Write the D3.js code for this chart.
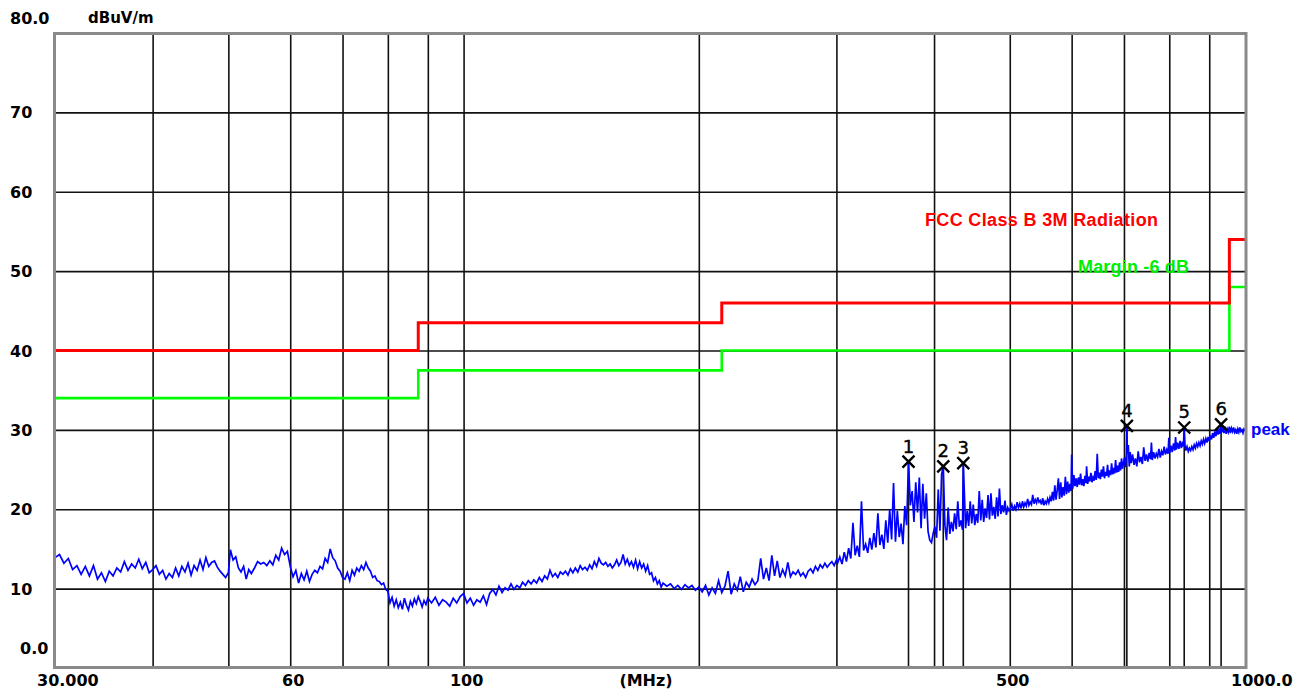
<!DOCTYPE html>
<html>
<head>
<meta charset="utf-8">
<script src="https://cdn.jsdelivr.net/npm/d3@7"></script>
<style>
  body { margin: 0; background: #fff; }
  svg { display: block; }
  text { font-family: "DejaVu Sans", sans-serif; font-weight: bold; }
</style>
</head>
<body>
<svg id="chart" width="1308" height="692"></svg>
<script>
// axis values
var yTicks = [0, 10, 20, 30, 40, 50, 60, 70, 80];
var yLabels = ["0.0", "10", "20", "30", "40", "50", "60", "70", "80.0"];
var gridFreqs = [40, 50, 60, 70, 80, 90, 100, 200, 300, 400, 500, 600, 700, 800, 900];
var xLabelFreqs = [30, 60, 100, 500, 1000];
var xLabels = ["30.000", "60", "100", "500", "1000.0"];

// FCC class B 3 m limit and the -6 dB margin line (steps)
var limitFreq = [30, 87.5, 87.5, 214, 214, 955, 955, 1000];
var limitLevel = [40, 40, 43.5, 43.5, 46, 46, 54, 54];
var marginLevel = [34, 34, 37.5, 37.5, 40, 40, 48, 48];

// markers: freq (MHz), level (dBuV/m)
var markerFreq = [371, 411, 436, 706, 836, 932];
var markerLevel = [26.0, 25.4, 25.8, 30.5, 30.3, 30.7];

// peak trace [MHz, dBuV/m]
var trace = [
  [30.0,13.9],[30.4,14.3],[30.8,13.2],[31.2,13.8],[31.6,12.4],[32.0,12.9],[32.4,11.8],[32.8,12.8],[33.2,11.6],[33.6,12.9],
  [34.0,11.2],[34.4,12.0],[34.8,10.9],[35.2,12.2],[35.6,11.6],[36.0,12.6],[36.4,12.1],[36.8,13.4],[37.2,12.3],[37.6,13.1],
  [38.0,12.6],[38.4,13.7],[38.8,12.5],[39.2,13.3],[39.6,12.0],[40.0,12.4],
  [40.4,12.9],[40.8,11.8],[41.2,12.3],[41.6,11.2],[42.0,11.9],[42.4,11.4],[42.8,12.6],[43.2,11.6],[43.6,12.8],[44.0,12.1],
  [44.4,13.2],[44.8,11.7],[45.2,12.9],[45.6,12.3],[46.0,13.6],[46.4,12.4],[46.8,13.9],[47.2,12.8],[47.6,13.3],[48.0,13.5],
  [48.4,12.7],[48.8,12.2],[49.2,11.8],[49.6,11.4],[50.0,12.0],
  [50.3,14.9],[50.7,13.6],[51.1,14.0],[51.5,12.6],[51.9,12.1],[52.3,12.8],[52.7,11.2],[53.1,12.4],[53.5,11.9],[54.0,12.6],
  [54.5,13.4],[55.0,13.1],[55.5,13.3],[56.0,12.9],[56.5,13.5],[57.0,13.0],[57.5,14.2],[58.0,13.6],[58.5,15.1],[59.0,14.3],
  [59.5,14.7],[60.0,12.8],
  [60.5,11.5],[61.0,12.3],[61.5,10.7],[62.0,11.9],[62.5,11.1],[63.0,12.2],[63.5,10.9],[64.0,11.8],[64.5,12.3],[65.0,12.0],
  [65.5,12.8],[66.0,12.5],[66.5,13.8],[67.0,13.3],[67.5,15.0],[68.0,13.9],[68.5,13.5],[69.0,12.6],[69.5,12.2],[70.0,11.4],
  [70.5,11.2],[71.0,12.0],[71.5,11.0],[72.0,12.3],[72.5,11.7],[73.0,12.6],[73.5,12.2],[74.0,12.9],[74.5,12.4],[75.0,13.3],
  [75.5,12.6],[76.0,12.2],[76.5,11.4],[77.0,11.6],[77.5,11.0],[78.0,10.9],[78.5,10.5],[79.0,10.7],[79.5,9.9],[80.0,9.7],
  [80.5,8.2],[81.0,8.9],[81.5,7.8],[82.0,8.6],[82.5,7.6],[83.0,8.3],[83.5,7.4],[84.0,8.8],[84.5,7.9],[85.0,7.3],
  [85.5,8.4],[86.0,7.8],[86.5,8.7],[87.0,8.1],[87.5,9.0],[88.0,8.4],[88.5,7.7],[89.0,8.5],[89.5,8.0],[90.0,8.8],
  [91,8.2],[92,8.9],[93,7.9],[94,8.6],[95,8.3],[96,7.8],[97,8.8],[98,8.2],[99,9.0],[100,9.4],
  [101,8.2],[102,8.8],[103,7.9],[104,8.6],[105,8.3],[106,9.1],[107,8.0],[108,9.4],[109,9.9],[110,9.2],
  [111,10.3],[112,9.5],[113,10.1],[114,9.8],[115,10.6],[116,9.9],[117,10.4],[118,10.1],[119,10.8],[120,10.4],
  [121,11.0],[122,10.6],[123,11.1],[124,10.7],[125,11.4],[126,10.9],[127,11.6],[128,11.2],[129,12.3],[130,11.5],
  [131,11.9],[132,11.4],[133,12.1],[134,11.8],[135,12.2],[136,11.7],[137,12.5],[138,12.0],[139,12.6],[140,12.1],
  [141,12.9],[142,12.4],[143,12.7],[144,12.3],[145,13.0],[146,12.5],[147,13.4],[148,12.8],[149,13.8],[150,13.2],
  [151,13.0],[152,13.3],[153,12.8],[154,13.1],[155,12.6],[156,13.0],[157,13.6],[158,12.9],[159,13.3],[160,14.3],
  [161,13.1],[162,13.7],[163,12.9],[164,13.4],[165,12.7],[166,13.6],[167,12.5],[168,13.4],[169,12.6],[170,13.1],
  [171,12.2],[172,12.9],[173,11.8],[174,12.0],[175,11.0],[176,11.4],[177,10.6],[178,11.0],[179,10.2],[180,10.7],
  [182,10.3],[184,10.6],[186,10.0],[188,10.4],[190,9.9],[192,10.5],[194,10.1],[196,10.4],[198,9.8],[200,10.2],
  [202,9.6],[204,10.4],[206,9.2],[208,10.1],[210,9.4],[212,11.0],[214,9.5],[216,10.3],[218,12.2],[220,9.3],
  [222,10.6],[224,9.8],[226,11.5],[228,9.6],[230,10.8],[232,10.2],[234,11.2],[236,10.5],[238,11.0],[240,13.8],
  [242,11.2],[244,12.6],[246,11.0],[248,14.2],[250,11.6],[252,13.5],[254,11.4],[256,12.4],[258,11.6],[260,13.3],
  [262,11.5],[264,12.1],[266,11.8],[268,12.3],[270,11.6],[272,12.0],[274,11.4],[276,12.2],[278,12.5],[280,12.0],
  [282,12.8],[284,12.3],[286,13.0],[288,12.6],[290,13.2],[292,12.7],[294,13.1],[296,13.4],[298,12.9],[300,13.6],
  [301,13.2],[303,14.0],[305,13.1],[307,14.6],[309,13.4],[311,15.1],[313,13.8],[315,18.3],[317,14.2],[319,15.4],
  [321,14.0],[323,21.0],[325,14.8],[327,15.6],[329,14.5],[331,16.4],[333,14.9],[335,17.0],[337,15.2],[339,19.5],
  [341,15.5],[343,16.8],[345,15.0],[347,18.6],[349,15.8],[351,20.0],[353,16.2],[355,23.3],[357,15.9],[359,19.8],
  [361,16.5],[363,18.2],[365,15.6],[367,20.4],[369,18.0],[371,26.0],[373,20.5],[375,22.3],[377,18.4],[379,23.4],
  [381,19.6],[383,24.0],[385,17.6],[387,23.2],[389,18.8],[391,22.0],[393,17.2],[395,16.1],[397,15.8],[399,17.0],
  [401,17.8],[403,16.4],[405,22.5],[407,17.3],[409,24.4],[411,25.4],[413,18.0],[415,16.1],[417,20.2],[419,16.9],
  [421,18.4],[423,17.2],[425,19.5],[427,17.5],[429,21.0],[431,17.8],[433,18.6],[435,17.4],[436,25.8],[439,17.6],
  [441,19.8],[443,17.9],[445,21.0],[447,18.2],[449,20.6],[451,18.0],[453,19.4],[455,18.3],[457,22.3],[459,18.6],
  [461,21.2],[463,18.4],[465,20.1],[467,18.9],[469,21.8],[471,18.7],[473,22.0],[475,19.2],[477,20.3],[479,18.8],
  [481,21.5],[483,19.1],[485,22.6],[487,19.4],[489,20.5],[491,19.6],[493,21.1],[495,19.3],[497,20.2],[499,19.8],
  [501,20.1],[503,20.6],[505,19.8],[507,20.4],[509,20.0],[511,20.9],[513,20.2],[515,20.7],[517,20.1],[519,21.0],
  [521,20.3],[523,20.8],[525,20.4],[527,21.3],[529,20.5],[531,20.9],[533,20.6],[535,21.8],[537,20.7],[539,21.2],
  [541,20.8],[543,21.5],[545,20.9],[547,21.1],[549,20.6],[551,21.4],[553,20.5],[555,21.0],[557,20.7],[559,21.3],
  [561,20.8],[563,21.5],[565,21.0],[567,22.2],[569,21.1],[571,23.0],[573,21.2],[575,22.4],[577,23.9],[579,21.3],
  [581,23.4],[583,21.5],[585,22.8],[587,21.7],[589,24.1],[591,21.9],[593,23.5],[595,22.1],[597,23.2],[599,22.3],
  [600,26.9],[602,22.6],[604,24.3],[606,22.9],[608,23.9],[610,22.8],[612,24.0],[614,23.1],[616,24.5],[618,23.0],
  [620,23.8],[622,22.9],[624,24.2],[626,23.3],[627,25.4],[629,23.2],[631,24.1],[633,23.5],[635,24.6],[637,23.4],
  [639,24.0],[641,23.6],[643,24.8],[645,23.7],[647,27.0],[649,23.9],[651,24.6],[653,23.8],[655,25.0],[657,24.1],
  [659,25.4],[661,23.9],[663,24.7],[665,24.2],[667,25.6],[669,24.0],[671,24.9],[673,24.3],[675,25.8],[677,24.4],
  [679,25.2],[681,24.5],[683,26.2],[685,24.6],[687,25.5],[689,24.7],[691,25.9],[693,24.9],[695,26.4],[697,25.1],
  [699,25.8],[701,26.5],[703,25.3],[705,26.8],[706,30.5],[707,27.0],[709,28.1],[711,25.4],[713,27.2],
  [715,25.8],[718,26.9],[721,25.6],[724,26.4],[727,25.4],[730,27.3],[733,25.9],[736,26.6],[739,25.7],[742,27.8],
  [745,26.1],[748,26.9],[751,26.0],[754,27.1],[757,26.3],[759,28.4],[761,26.2],[764,27.2],[767,26.4],[770,27.0],
  [773,26.6],[776,27.6],[779,26.5],[782,27.3],[785,26.8],[788,27.9],[791,26.9],[794,27.5],[797,27.0],[799,29.0],
  [801,27.1],[804,28.0],[807,27.2],[810,28.3],[813,27.4],[815,29.1],[817,27.5],[820,28.4],[823,27.6],[826,28.6],
  [829,27.7],[832,28.5],[834,27.9],[836,30.3],[838,28.0],[840,27.4],[843,27.9],[846,27.3],[849,27.7],[852,27.4],
  [855,27.9],[858,27.5],[861,28.1],[864,27.7],[867,28.3],[870,27.9],[873,28.4],[876,28.0],[879,28.6],[882,28.2],
  [885,28.8],[888,28.3],[891,28.9],[894,28.4],[897,29.1],[900,28.6],[903,29.3],[906,28.8],[909,29.6],[912,29.0],
  [915,29.8],[918,29.2],[921,30.1],[924,29.4],[927,30.2],[929,29.5],[932,30.7],[934,29.7],[937,30.3],[940,29.6],
  [943,30.4],[946,29.5],[949,30.1],[952,29.7],[955,30.4],[958,29.6],[961,30.2],[964,29.8],[967,30.3],[970,29.7],
  [973,30.0],[976,29.5],[979,30.1],[982,29.7],[985,30.3],[988,29.8],[991,30.0],[994,29.6],[997,30.1],[1000,29.9]
];

var svg = d3.select("svg#chart");
var plotLeft = 55, plotRight = 1245, plotTop = 33, plotBottom = 668;

var x = d3.scaleLog().domain([30, 1000]).range([plotLeft, plotRight]);
var y = d3.scaleLinear().domain([0, 80]).range([plotBottom, plotTop]);

// vertical grid
svg.append("g")
    .attr("transform", "translate(0," + plotBottom + ")")
    .call(d3.axisBottom(x).tickValues(gridFreqs).tickSize(-(plotBottom - plotTop)).tickFormat(""))
    .call(g => g.select(".domain").remove())
    .call(g => g.selectAll("line").attr("stroke", "#111").attr("stroke-width", 1.6));

// horizontal grid
svg.append("g")
    .attr("transform", "translate(" + plotLeft + ",0)")
    .call(d3.axisLeft(y).tickValues(yTicks.slice(1, -1)).tickSize(-(plotRight - plotLeft)).tickFormat(""))
    .call(g => g.select(".domain").remove())
    .call(g => g.selectAll("line").attr("stroke", "#111").attr("stroke-width", 1.6));

// limit lines
var stepLine = d3.line().x(d => x(d[0])).y(d => y(d[1]));
svg.append("path")
    .attr("d", stepLine(limitFreq.map((f, i) => [f, marginLevel[i]])))
    .attr("fill", "none").attr("stroke", "#00ff00").attr("stroke-width", 2.6);
svg.append("path")
    .attr("d", stepLine(limitFreq.map((f, i) => [f, limitLevel[i]])))
    .attr("fill", "none").attr("stroke", "#ff0000").attr("stroke-width", 3);

// marker drop lines
svg.selectAll(".mline")
    .data(markerFreq)
    .enter()
    .append("line")
    .attr("class", "mline")
    .attr("x1", d => x(d)).attr("x2", d => x(d))
    .attr("y1", (d, i) => y(markerLevel[i])).attr("y2", plotBottom)
    .attr("stroke", "#111").attr("stroke-width", 1.6);

// trace
svg.append("path")
    .attr("d", d3.line().x(d => x(d[0])).y(d => y(d[1]))(trace))
    .attr("fill", "none").attr("stroke", "#0000ff").attr("stroke-width", 1.7);

// markers
var mk = svg.selectAll(".marker")
    .data(markerFreq)
    .enter()
    .append("g")
    .attr("class", "marker")
    .attr("transform", (d, i) => "translate(" + x(d) + "," + y(markerLevel[i]) + ")");
mk.append("path")
    .attr("d", "M-6,-6L6,6M6,-6L-6,6")
    .attr("stroke", "#000").attr("stroke-width", 2.4);
mk.append("text")
    .attr("y", -9)
    .attr("text-anchor", "middle")
    .style("font-weight", "normal")
    .style("font-size", "18px")
    .attr("stroke", "#000").attr("stroke-width", 0.4)
    .text((d, i) => i + 1);

// frame
svg.append("rect")
    .attr("x", plotLeft - 0.5).attr("y", plotTop + 0.5)
    .attr("width", plotRight - plotLeft + 1.5).attr("height", plotBottom - plotTop - 1)
    .attr("fill", "none").attr("stroke", "#8a8a8a").attr("stroke-width", 3);

// y labels
svg.selectAll(".ylab")
    .data(yTicks)
    .enter()
    .append("text")
    .attr("class", "ylab")
    .attr("x", d => d === 0 ? 20 : 10)
    .attr("y", d => d === 80 ? 24 : d === 0 ? 654 : y(d) + 6)
    .style("font-size", "16px")
    .text((d, i) => yLabels[i]);

svg.append("text")
    .attr("x", 88).attr("y", 23)
    .style("font-size", "15px")
    .text("dBuV/m");

// x labels
svg.selectAll(".xlab")
    .data(xLabelFreqs)
    .enter()
    .append("text")
    .attr("class", "xlab")
    .attr("x", d => d === 30 ? 37 : d === 1000 ? 1231 : x(d) + 3)
    .attr("y", 686)
    .attr("text-anchor", d => (d === 30 || d === 1000) ? "start" : "middle")
    .style("font-size", "16px")
    .text((d, i) => xLabels[i]);

svg.append("text")
    .attr("x", 646).attr("y", 686)
    .attr("text-anchor", "middle")
    .style("font-size", "16px")
    .text("(MHz)");

// legend texts
svg.append("text")
    .attr("x", 925).attr("y", 226)
    .attr("fill", "#ff0000")
    .style("font-family", "Liberation Sans, sans-serif")
    .style("font-size", "18px")
    .attr("textLength", 233)
    .text("FCC Class B 3M Radiation");

svg.append("text")
    .attr("x", 1078).attr("y", 273)
    .attr("fill", "#00ee00")
    .style("font-family", "Liberation Sans, sans-serif")
    .style("font-size", "18px")
    .attr("textLength", 111)
    .text("Margin -6 dB");

svg.append("text")
    .attr("x", 1251).attr("y", 435)
    .attr("fill", "#0000ff")
    .style("font-family", "Liberation Sans, sans-serif")
    .style("font-size", "17px")
    .text("peak");
</script>
</body>
</html>
